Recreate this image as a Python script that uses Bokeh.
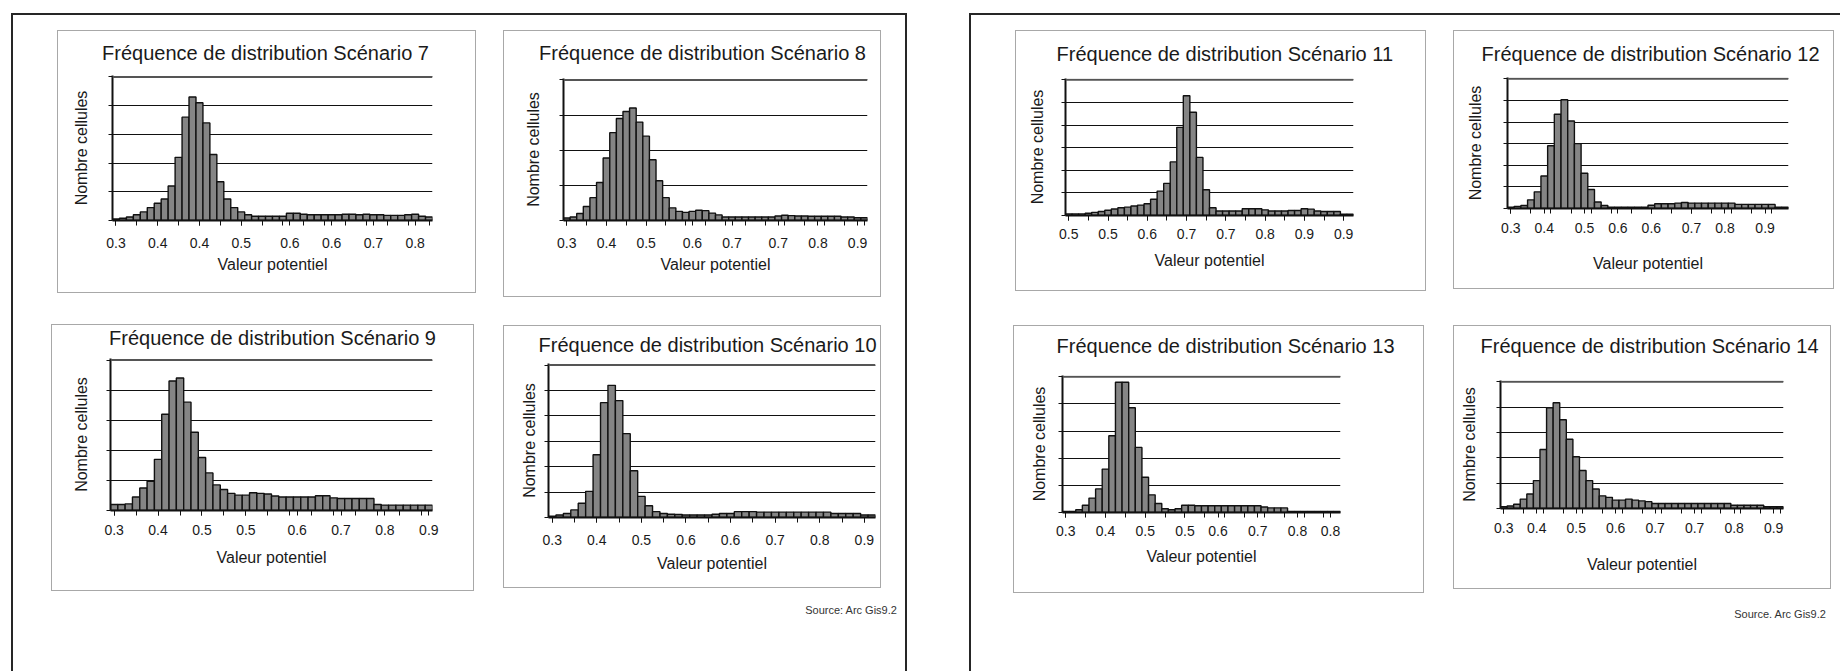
from bokeh.plotting import figure
from bokeh.models import Range1d, FixedTicker, Column, Span, Div
from bokeh.embed import file_html
from bokeh.resources import INLINE

FONT = "Liberation Sans"

# ---------------- data ----------------
x_axis_label = "Valeur potentiel"
y_axis_label = "Nombre cellules"

s7_title = "Fréquence de distribution Scénario 7"
s7_counts = [0.05, 0.08, 0.12, 0.2, 0.3, 0.45, 0.6, 0.75, 1.2, 2.2, 3.6, 4.3, 4.1, 3.4, 2.3, 1.35,
             0.75, 0.45, 0.3, 0.2, 0.15, 0.15, 0.15, 0.15, 0.15, 0.25, 0.25, 0.22, 0.2, 0.2, 0.2,
             0.2, 0.2, 0.22, 0.22, 0.2, 0.22, 0.2, 0.2, 0.18, 0.18, 0.18, 0.2, 0.22, 0.15, 0.12]
s7_tick_pos = [0, 6, 12, 18, 25, 31, 37, 43]
s7_tick_labels = ["0.3", "0.4", "0.4", "0.5", "0.6", "0.6", "0.7", "0.8"]
s7_grid_max = 5

s8_title = "Fréquence de distribution Scénario 8"
s8_counts = [0.07, 0.1, 0.2, 0.4, 0.65, 1.08, 1.78, 2.5, 2.9, 3.1, 3.2, 2.8, 2.4, 1.73, 1.13, 0.65,
             0.36, 0.26, 0.23, 0.26, 0.29, 0.28, 0.21, 0.16, 0.1, 0.1, 0.1, 0.1, 0.1, 0.1, 0.1, 0.1,
             0.13, 0.15, 0.14, 0.13, 0.13, 0.12, 0.12, 0.12, 0.12, 0.12, 0.1, 0.1, 0.08, 0.08]
s8_tick_pos = [0, 6, 12, 19, 25, 32, 38, 44]
s8_tick_labels = ["0.3", "0.4", "0.5", "0.6", "0.7", "0.7", "0.8", "0.9"]
s8_grid_max = 4

s9_title = "Fréquence de distribution Scénario 9"
s9_counts = [0.2, 0.2, 0.22, 0.45, 0.75, 0.97, 1.7, 3.2, 4.3, 4.4, 3.6, 2.6, 1.76, 1.25, 0.85, 0.7,
             0.57, 0.51, 0.51, 0.59, 0.57, 0.55, 0.48, 0.45, 0.45, 0.45, 0.45, 0.45, 0.49, 0.49,
             0.42, 0.4, 0.4, 0.4, 0.4, 0.4, 0.2, 0.18, 0.18, 0.18, 0.18, 0.18, 0.18, 0.18]
s9_tick_pos = [0, 6, 12, 18, 25, 31, 37, 43]
s9_tick_labels = ["0.3", "0.4", "0.5", "0.5", "0.6", "0.7", "0.8", "0.9"]
s9_grid_max = 5

s10_title = "Fréquence de distribution Scénario 10"
s10_counts = [0.05, 0.1, 0.16, 0.3, 0.56, 1.03, 2.47, 4.52, 5.2, 4.6, 3.3, 1.84, 0.83, 0.46, 0.23,
              0.16, 0.13, 0.12, 0.1, 0.1, 0.1, 0.1, 0.13, 0.16, 0.16, 0.23, 0.23, 0.23, 0.21, 0.21,
              0.21, 0.21, 0.21, 0.21, 0.21, 0.21, 0.21, 0.21, 0.16, 0.16, 0.16, 0.16, 0.1, 0.1]
s10_tick_pos = [0, 6, 12, 18, 24, 30, 36, 42]
s10_tick_labels = ["0.3", "0.4", "0.5", "0.6", "0.6", "0.7", "0.8", "0.9"]
s10_grid_max = 6

s11_title = "Fréquence de distribution Scénario 11"
s11_counts = [0.07, 0.07, 0.07, 0.1, 0.14, 0.18, 0.23, 0.29, 0.34, 0.37, 0.42, 0.46, 0.52, 0.72,
              1.08, 1.42, 2.37, 3.9, 5.3, 4.57, 2.57, 1.14, 0.34, 0.2, 0.2, 0.2, 0.2, 0.3, 0.3, 0.3,
              0.25, 0.2, 0.2, 0.2, 0.22, 0.22, 0.3, 0.28, 0.2, 0.18, 0.18, 0.18, 0.06, 0.06]
s11_tick_pos = [0, 6, 12, 18, 24, 30, 36, 42]
s11_tick_labels = ["0.5", "0.5", "0.6", "0.7", "0.7", "0.8", "0.9", "0.9"]
s11_grid_max = 6

s12_title = "Fréquence de distribution Scénario 12"
s12_counts = [0.06, 0.1, 0.14, 0.4, 0.77, 1.5, 2.9, 4.36, 5.03, 4.05, 3.0, 1.63, 0.88, 0.3, 0.14,
              0.06, 0.06, 0.06, 0.06, 0.06, 0.06, 0.15, 0.22, 0.22, 0.22, 0.25, 0.28, 0.25, 0.25,
              0.25, 0.25, 0.25, 0.25, 0.25, 0.19, 0.19, 0.19, 0.19, 0.19, 0.19, 0.06, 0.06]
s12_tick_pos = [0, 5, 11, 16, 21, 27, 32, 38]
s12_tick_labels = ["0.3", "0.4", "0.5", "0.6", "0.6", "0.7", "0.8", "0.9"]
s12_grid_max = 6

s13_title = "Fréquence de distribution Scénario 13"
s13_counts = [0.04, 0.04, 0.1, 0.27, 0.53, 0.87, 1.6, 2.83, 4.8, 4.8, 3.86, 2.4, 1.3, 0.65, 0.33,
              0.14, 0.1, 0.14, 0.27, 0.27, 0.25, 0.25, 0.25, 0.25, 0.25, 0.25, 0.25, 0.25, 0.25,
              0.25, 0.2, 0.17, 0.17, 0.17, 0.04, 0.04, 0.04, 0.04, 0.04, 0.04, 0.04, 0.04]
s13_tick_pos = [0, 6, 12, 18, 23, 29, 35, 40]
s13_tick_labels = ["0.3", "0.4", "0.5", "0.5", "0.6", "0.7", "0.8", "0.8"]
s13_grid_max = 5

s14_title = "Fréquence de distribution Scénario 14"
s14_counts = [0.07, 0.1, 0.17, 0.37, 0.57, 1.1, 2.33, 3.97, 4.17, 3.5, 2.73, 2.04, 1.5, 1.1, 0.77,
              0.5, 0.44, 0.33, 0.33, 0.37, 0.33, 0.3, 0.27, 0.2, 0.2, 0.2, 0.2, 0.2, 0.2, 0.2, 0.2,
              0.2, 0.2, 0.2, 0.2, 0.13, 0.13, 0.13, 0.13, 0.13, 0.07, 0.07, 0.07]
s14_tick_pos = [0, 5, 11, 17, 23, 29, 35, 41]
s14_tick_labels = ["0.3", "0.4", "0.5", "0.6", "0.7", "0.7", "0.8", "0.9"]
s14_grid_max = 5

source_notes = ["Source: Arc Gis9.2", "Source. Arc Gis9.2"]

# ---------------- layout (page pixels) ----------------
W, H = 1840, 671
BL, BR, BT, BB = 60, 60, 70, 90  # identical canvas borders for every figure
TITLE_PX = 20

# box = panel outline (l, t, r, b); frame = plot area (l, t, r, b);
# st = title centre x / standoffs
panels = [
    (s7_title, s7_counts, s7_tick_pos, s7_tick_labels, s7_grid_max,
     (57, 30, 475, 292), (112, 75, 432, 220), dict(tc=265, title=24, xl=12, xa=5, ya=19)),
    (s8_title, s8_counts, s8_tick_pos, s8_tick_labels, s8_grid_max,
     (503, 30, 880, 296), (563, 78, 867, 220), dict(tc=702, title=29, xl=12, xa=5, ya=18)),
    (s9_title, s9_counts, s9_tick_pos, s9_tick_labels, s9_grid_max,
     (51, 324, 473, 590), (110, 358, 432, 510), dict(tc=272, title=19, xl=9, xa=11, ya=17)),
    (s10_title, s10_counts, s10_tick_pos, s10_tick_labels, s10_grid_max,
     (503, 325, 880, 587), (548, 363, 875, 517), dict(tc=707, title=16, xl=12, xa=7, ya=7)),
    (s11_title, s11_counts, s11_tick_pos, s11_tick_labels, s11_grid_max,
     (1015, 30, 1425, 290), (1065, 78, 1353, 215), dict(tc=1225, title=27, xl=8, xa=10, ya=16)),
    (s12_title, s12_counts, s12_tick_pos, s12_tick_labels, s12_grid_max,
     (1453, 30, 1833, 288), (1507, 77, 1788, 208), dict(tc=1650, title=26, xl=9, xa=19, ya=20)),
    (s13_title, s13_counts, s13_tick_pos, s13_tick_labels, s13_grid_max,
     (1013, 325, 1423, 592), (1062, 375, 1340, 512), dict(tc=1225, title=37, xl=8, xa=9, ya=11)),
    (s14_title, s14_counts, s14_tick_pos, s14_tick_labels, s14_grid_max,
     (1453, 325, 1830, 588), (1500, 379, 1783, 508), dict(tc=1649, title=47, xl=9, xa=20, ya=19)),
]
notes_frame = (760, 596, 1834, 626)      # area holding the two source notes
notes_x = [897, 1826]                     # right ends of the notes
notes_y = [609, 613]


def place(model, left, top):
    st = dict(model.styles) if model.styles else {}
    st.update({"position": "absolute", "left": f"{left}px", "top": f"{top}px"})
    model.styles = st


def css_box(left, top, width, height, border):
    d = Div(text="", width=width, height=height, margin=0)
    d.styles = {"box-sizing": "border-box", "padding": "0px", **border}
    place(d, left, top)
    return d


# page frames (open at the bottom) and panel outlines
frame_line = "2px solid #262626"
decor = [
    css_box(11, 13, 896, 700, {"border-top": frame_line, "border-left": frame_line,
                               "border-right": frame_line}),
    css_box(969, 13, 900, 700, {"border-top": frame_line, "border-left": frame_line}),
]
for pnl in panels:
    bl, bt, br, bb = pnl[5]
    decor.append(css_box(bl, bt, br - bl + 1, bb - bt + 1, {"border": "1px solid #a8a8a8"}))


def title_width(text):
    # approximate advance of Liberation Sans (Arial metrics) in em
    widths = {"F": .611, "r": .333, "é": .556, "q": .556, "u": .556, "e": .556, "n": .556,
              "c": .5, " ": .278, "d": .556, "i": .222, "s": .5, "t": .278, "b": .556,
              "o": .556, "S": .667, "a": .556}
    return sum(widths.get(ch, .556) for ch in text) * TITLE_PX


def make_panel(title, counts, tick_pos, tick_labels, grid_max, box, frame, st):
    fl, ft, fr, fb = frame
    n = len(counts)
    p = figure(width=(fr - fl) + BL + BR, height=(fb - ft) + BT + BB,
               output_backend="svg", toolbar_location=None,
               x_range=Range1d(-0.5, n - 0.5), y_range=Range1d(0, grid_max * 1.01),
               min_border_left=BL, min_border_right=BR,
               min_border_top=BT, min_border_bottom=BB,
               background_fill_color=None, border_fill_color=None,
               outline_line_color=None)
    p.title.text = title
    p.title.text_font = FONT
    p.title.text_font_size = f"{TITLE_PX}px"
    p.title.text_font_style = "normal"
    p.title.text_color = "#1a1a1a"
    p.title.align = "left"
    p.title.offset = st["tc"] - title_width(title) / 2 - fl
    p.title.standoff = st["title"]

    p.vbar(x=list(range(n)), top=counts, width=1.0, bottom=0,
           fill_color="#858585", line_color="#111111", line_width=1.4)

    xa = p.xaxis[0]
    xa.ticker = FixedTicker(ticks=tick_pos, minor_ticks=list(range(0, n, 3)))
    xa.major_label_overrides = {int(k): v for k, v in zip(tick_pos, tick_labels)}
    xa.axis_label = x_axis_label
    xa.axis_label_text_font = FONT
    xa.axis_label_text_font_size = "16px"
    xa.axis_label_text_font_style = "normal"
    xa.axis_label_text_color = "#1a1a1a"
    xa.axis_label_standoff = st["xa"]
    xa.major_label_text_font = FONT
    xa.major_label_text_font_size = "14px"
    xa.major_label_text_color = "#1a1a1a"
    xa.major_label_standoff = st["xl"]
    xa.axis_line_width = 2
    xa.axis_line_color = "#111111"
    xa.major_tick_in = 0
    xa.major_tick_out = 5
    xa.minor_tick_in = 0
    xa.minor_tick_out = 5
    xa.major_tick_line_color = "#111111"
    xa.minor_tick_line_color = "#111111"

    # y axis: tick marks only (as minor ticks), no numbers
    ya = p.yaxis[0]
    ya.ticker = FixedTicker(ticks=[], minor_ticks=list(range(0, grid_max + 1)))
    ya.axis_label = y_axis_label
    ya.axis_label_text_font = FONT
    ya.axis_label_text_font_size = "16px"
    ya.axis_label_text_font_style = "normal"
    ya.axis_label_text_color = "#1a1a1a"
    ya.axis_label_standoff = st["ya"]
    ya.axis_line_width = 2
    ya.axis_line_color = "#111111"
    ya.minor_tick_in = 0
    ya.minor_tick_out = 4
    ya.minor_tick_line_color = "#111111"
    ya.major_label_standoff = 0

    p.xgrid.visible = False
    p.ygrid.ticker = FixedTicker(ticks=list(range(1, grid_max + 1)))
    p.ygrid.grid_line_color = "#111111"
    p.ygrid.grid_line_width = 1
    p.add_layout(Span(location=grid_max, dimension="width", line_color="#555555", line_width=2))
    place(p, fl - BL, ft - BT)
    return p


figs = [make_panel(*args) for args in panels]

# small transparent figure carrying the two "Source" notes (page-pixel coordinates)
nl, nt, nr, nb = notes_frame
notes = figure(width=(nr - nl) + BL + BR, height=(nb - nt), output_backend="svg",
               toolbar_location=None, x_range=Range1d(nl, nr), y_range=Range1d(nb, nt),
               min_border_left=BL, min_border_right=BR, min_border_top=0, min_border_bottom=0,
               x_axis_location=None, y_axis_location=None, outline_line_color=None,
               background_fill_color=None, border_fill_color=None)
notes.grid.visible = False
notes.text(x=notes_x, y=notes_y, text=source_notes, text_align="right",
           text_baseline="middle", text_font_size="11px", text_color="#333333",
           text_font={"value": FONT})
place(notes, nl - BL, nt)

page = Column(children=decor + figs + [notes], width=W, height=H, sizing_mode="fixed",
              styles={"position": "relative", "overflow": "hidden"})

open("out.html", "w").write(file_html(page, INLINE))
